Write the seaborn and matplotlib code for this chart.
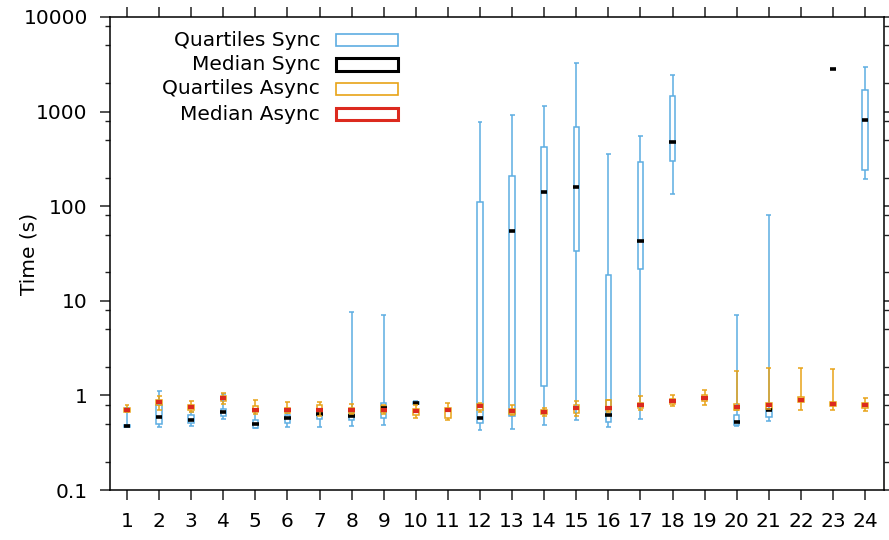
import matplotlib
matplotlib.use('Agg')
import matplotlib.pyplot as plt
import seaborn as sns
import numpy as np
from matplotlib.patches import Rectangle
from matplotlib.ticker import LogLocator, NullFormatter, FixedFormatter, FixedLocator

sns.set_style('ticks')
plt.rcParams['font.family'] = ['DejaVu Sans']
plt.rcParams['text.color'] = 'black'
plt.rcParams['axes.labelcolor'] = 'black'
plt.rcParams['xtick.color'] = 'black'
plt.rcParams['ytick.color'] = 'black'

nan = np.nan
runs = list(range(1, 25))

# Sync (low, q1, median, q3, high)
sync_low = [0.465, 0.46, 0.478, 0.566, 0.451, 0.462, 0.458, 0.47, 0.49, 0.81, nan, 0.434,
            0.444, 0.49, 0.544, 0.462, 0.557, 133, nan, 0.47, 0.535, nan, nan, 193]
sync_q1 = [0.465, 0.50, 0.509, 0.604, 0.455, 0.515, 0.557, 0.544, 0.58, 0.82, nan, 0.509,
           0.599, 1.245, 33.4, 0.522, 21.5, 301, nan, 0.489, 0.589, nan, nan, 244]
sync_med = [0.473, 0.585, 0.553, 0.661, 0.493, 0.58, 0.64, 0.61, 0.73, 0.835, nan, 0.575,
            55.3, 141.7, 157.7, 0.625, 43, 472, nan, 0.527, 0.706, nan, 2800, 807]
sync_q3 = [0.49, 0.784, 0.625, 0.723, 0.553, 0.625, 0.682, 0.666, 0.837, 0.86, nan, 111,
           211, 421, 680, 18.8, 294, 1459, nan, 0.625, 0.723, nan, nan, 1676]
sync_high = [0.74, 1.11, 0.666, 1.04, 0.72, 0.666, 0.72, 7.55, 7.03, 0.87, nan, 774,
             925, 1143, 3260, 355, 547, 2434, nan, 7.0, 81, nan, nan, 2958]

# Async (low, q1, median, q3, high)
async_low = [0.66, 0.706, 0.666, 0.817, 0.64, 0.645, 0.599, 0.64, 0.64, 0.58, 0.553, 0.666,
             0.614, 0.599, 0.599, 0.666, 0.706, 0.765, 0.797, 0.70, 0.71, 0.706, 0.694, 0.677]
async_q1 = [0.666, 0.80, 0.706, 0.87, 0.666, 0.655, 0.666, 0.655, 0.666, 0.625, 0.58, 0.694,
            0.64, 0.629, 0.65, 0.694, 0.741, 0.817, 0.87, 0.706, 0.723, 0.849, 0.765, 0.741]
async_med = [0.694, 0.857, 0.76, 0.929, 0.70, 0.694, 0.706, 0.694, 0.706, 0.682, 0.694, 0.765,
             0.677, 0.661, 0.741, 0.741, 0.784, 0.87, 0.929, 0.752, 0.784, 0.90, 0.817, 0.797]
async_q3 = [0.74, 0.90, 0.80, 0.99, 0.765, 0.734, 0.784, 0.734, 0.765, 0.723, 0.741, 0.817,
            0.723, 0.694, 0.784, 0.885, 0.83, 0.92, 1.0, 0.803, 0.83, 0.96, 0.857, 0.837]
async_high = [0.797, 0.976, 0.87, 1.057, 0.885, 0.849, 0.849, 0.817, 0.797, 0.80, 0.837, 0.83,
              0.797, 0.734, 0.87, 0.90, 0.976, 1.007, 1.13, 1.79, 1.93, 1.93, 1.9, 0.936]

c_sync = '#5DADE2'
c_async = '#E8A317'
c_med_sync = 'black'
c_med_async = '#DC2A1E'

fig = plt.figure(figsize=(8.89, 5.40), dpi=100)
ax = fig.add_axes([110 / 889, 1 - 490 / 540, 774 / 889, 473 / 540])

box_w = 0.17
cap_w = 0.155
med_w = 0.2


def candles(x, low, q1, q3, high, color, lw=1.1):
    x = np.asarray(x, dtype=float)
    low, q1, q3, high = (np.asarray(a, dtype=float) for a in (low, q1, q3, high))
    ok = ~np.isnan(q1)
    x, low, q1, q3, high = x[ok], low[ok], q1[ok], q3[ok], high[ok]
    ax.bar(x, q3 - q1, bottom=q1, width=box_w, fill=False, edgecolor=color, linewidth=lw)
    ax.vlines(x, q3, high, color=color, linewidth=lw)
    ax.vlines(x, low, q1, color=color, linewidth=lw)
    ax.hlines(high, x - cap_w / 2, x + cap_w / 2, color=color, linewidth=lw)
    ax.hlines(low, x - cap_w / 2, x + cap_w / 2, color=color, linewidth=lw)


def medians(x, med, color, lw):
    x = np.asarray(x, dtype=float)
    med = np.asarray(med, dtype=float)
    ok = ~np.isnan(med)
    ax.hlines(med[ok], x[ok] - med_w / 2, x[ok] + med_w / 2, color=color, linewidth=lw)


candles(runs, sync_low, sync_q1, sync_q3, sync_high, c_sync)
medians(runs, sync_med, c_med_sync, 2.6)
candles(runs, async_low, async_q1, async_q3, async_high, c_async)
medians(runs, async_med, c_med_async, 3.0)

ax.set_yscale('log')
ax.set_ylim(0.1, 10000)
ax.set_xlim(0.47, 24.59)
ax.yaxis.set_major_locator(FixedLocator([0.1, 1, 10, 100, 1000, 10000]))
ax.yaxis.set_major_formatter(FixedFormatter(['0.1', '1', '10', '100', '1000', '10000']))
ax.yaxis.set_minor_locator(LogLocator(base=10, subs=[2, 5, 8]))
ax.yaxis.set_minor_formatter(NullFormatter())
ax.set_xticks(runs)
ax.set_xticklabels([str(r) for r in runs])
ax.set_ylabel('Time (s)', fontsize=14.5)
ax.yaxis.set_label_coords(-0.093, 0.5)

for s in ax.spines.values():
    s.set_visible(True)
    s.set_linewidth(1.1)
    s.set_color('black')
ax.tick_params(axis='both', which='major', direction='out', length=7, width=1.1,
               labelsize=14.5, top=True, right=True, labeltop=False, labelright=False,
               color='#222222')
ax.tick_params(axis='y', which='minor', direction='out', length=3.5, width=1.0,
               left=True, right=True, color='#222222')
ax.tick_params(axis='x', which='major', pad=9)
ax.tick_params(axis='y', which='major', pad=9)
ax.grid(False)

# legend, gnuplot style: right-aligned text with sample box on its right
legend_items = [('Quartiles Sync', c_sync, 1.2), ('Median Sync', c_med_sync, 2.2),
                ('Quartiles Async', c_async, 1.2), ('Median Async', c_med_async, 2.2)]
rows_y = [40, 64.5, 89, 114]
for (label, col, lw), yc in zip(legend_items, rows_y):
    fig.text(320 / 889, 1 - yc / 540, label, ha='right', va='center', fontsize=14.5)
    fig.patches.append(Rectangle((336 / 889, 1 - (yc + 6) / 540), 62 / 889, 12 / 540,
                                 transform=fig.transFigure, fill=False,
                                 edgecolor=col, linewidth=lw))

fig.savefig('out.png', dpi=100)
